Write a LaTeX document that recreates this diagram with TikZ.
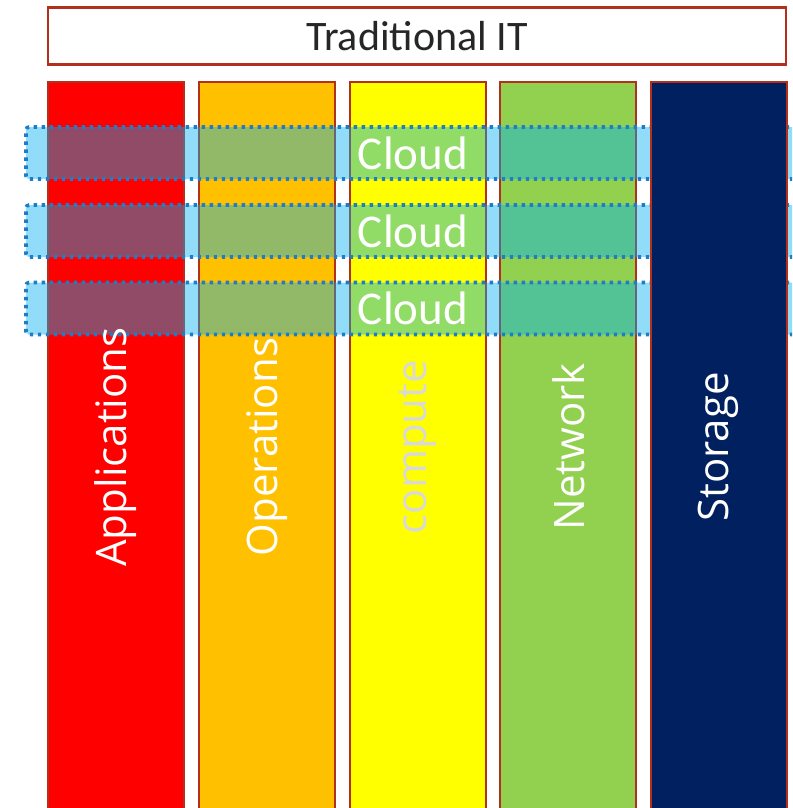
\documentclass[tikz,border=0pt]{standalone}
\usepackage{fontspec}
\setmainfont{Carlito}
\newfontfamily\labelfont{Open Sans}
\definecolor{edgered}{RGB}{178,48,28}
\definecolor{colred}{RGB}{255,0,0}
\definecolor{colorange}{RGB}{255,192,0}
\definecolor{colyellow}{RGB}{255,255,0}
\definecolor{colgreen}{RGB}{146,208,80}
\definecolor{colnavy}{RGB}{0,32,96}
\definecolor{bandfill}{RGB}{0,176,240}
\definecolor{banddot}{RGB}{30,125,200}
\definecolor{titletext}{RGB}{38,38,38}
\definecolor{computetext}{RGB}{217,217,217}
\tikzset{
  column/.style={draw=edgered, line width=2pt, inner sep=0pt, minimum width=136pt, minimum height=730pt},
  colname/.style={rotate=90, text=white, font=\labelfont\fontsize{42}{50}\selectfont, inner sep=0pt},
  band/.style={fill=bandfill, fill opacity=0.43, text opacity=1, draw=banddot, line width=3.6pt,
    dash pattern=on 3.4pt off 4.6pt, rounded corners=3pt, minimum width=774pt, minimum height=52pt,
    inner sep=0pt, text=white, font=\fontsize{47}{55}\selectfont},
  titlebox/.style={draw=edgered, line width=2.5pt, minimum width=738pt, minimum height=57pt,
    inner sep=0pt, text=titletext, font=\fontsize{42}{50}\selectfont}
}
\begin{document}
\begin{tikzpicture}[x=1pt,y=-1pt]
\useasboundingbox (0,0) rectangle (792,808);
\clip (0,0) rectangle (792,808);
\node[titlebox] (title) at (417,36) {Traditional IT};
\node[column, fill=colred] (app) at (116,447) {};
\node[column, fill=colorange] (ops) at (266.8,447) {};
\node[column, fill=colyellow] (cmp) at (417.5,447) {};
\node[column, fill=colgreen] (net) at (568.3,447) {};
\node[band] (cloudA) at (413,153) {\raisebox{-1pt}{Cloud}};
\node[band] (cloudB) at (413,231) {\raisebox{-1pt}{Cloud}};
\node[band] (cloudC) at (413,308.5) {\raisebox{-1pt}{Cloud}};
\node[column, fill=colnavy] (sto) at (718.7,447) {};
\node[colname] (appl) at (app.center) {Applications};
\node[colname] (opsl) at (ops.center) {Operations};
\node[colname, text=computetext] (cmpl) at (cmp.center) {compute};
\node[colname] (netl) at (net.center) {Network};
\node[colname] (stol) at (sto.center) {Storage};
\end{tikzpicture}
\end{document}
